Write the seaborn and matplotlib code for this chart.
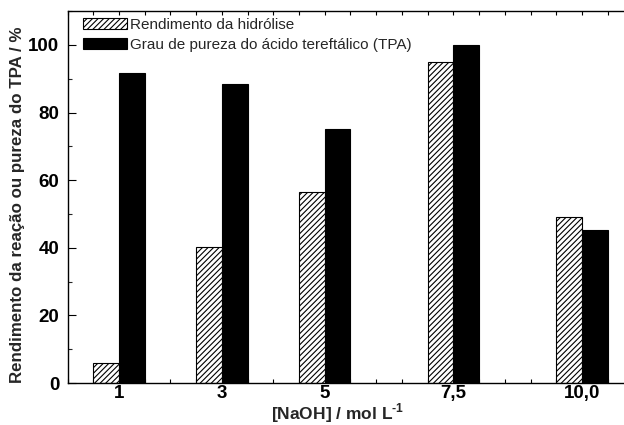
import matplotlib
matplotlib.use("Agg")
import matplotlib.pyplot as plt
from matplotlib.ticker import FixedLocator, MultipleLocator
import seaborn as sns
import pandas as pd

# ---- data ----
concentracao = [1, 3, 5, 7.5, 10]
rotulos_x = ["1", "3", "5", "7,5", "10,0"]
rendimento = [6.0, 40.3, 56.4, 95.0, 49.2]
pureza = [91.8, 88.5, 75.0, 100.0, 45.3]
series = ["Rendimento da hidrólise", "Grau de pureza do ácido tereftálico (TPA)"]

df = pd.DataFrame({
    "conc": concentracao * 2,
    "valor": rendimento + pureza,
    "serie": [series[0]] * len(concentracao) + [series[1]] * len(concentracao),
})

sns.set_style("ticks")
plt.rcParams["font.family"] = ["Liberation Sans", "DejaVu Sans"]
plt.rcParams["mathtext.fontset"] = "custom"
plt.rcParams["mathtext.rm"] = "Liberation Sans:bold"
plt.rcParams["mathtext.bf"] = "Liberation Sans:bold"
plt.rcParams["hatch.linewidth"] = 0.8

W, H = 624, 425
fig = plt.figure(figsize=(W / 100, H / 100), dpi=100)
left_px, bottom_px, top_px = 67.5, 383, 11.2
ax = fig.add_axes([left_px / W, (H - bottom_px) / H, 1 - left_px / W, (bottom_px - top_px) / H])

sns.barplot(data=df, x="conc", y="valor", hue="serie", hue_order=series,
            palette=["white", "black"], native_scale=True, width=0.5,
            edgecolor="black", linewidth=0.8, saturation=1, legend=False, ax=ax,
            errorbar=None)

handles = {}
for p in ax.patches:
    fc = p.get_facecolor()
    if fc[0] > 0.5:
        p.set_hatch("//////")
        handles.setdefault(0, p)
    else:
        handles.setdefault(1, p)

ax.set_xlim(0, (W - left_px) / 51.45)
ax.set_ylim(0, 110)

ax.xaxis.set_major_locator(FixedLocator(concentracao))
ax.set_xticklabels(rotulos_x)
ax.xaxis.set_minor_locator(MultipleLocator(0.5))
ax.yaxis.set_major_locator(MultipleLocator(20))
ax.yaxis.set_minor_locator(MultipleLocator(10))

for lab in ax.get_xticklabels() + ax.get_yticklabels():
    lab.set_fontweight("bold")
    lab.set_fontsize(13.5)

ax.tick_params(axis="x", which="both", direction="in", length=3, width=0.8,
               top=True, pad=1.5, colors="black")
ax.tick_params(axis="y", which="major", direction="in", length=6, width=0.8,
               pad=6, colors="black")
ax.tick_params(axis="y", which="minor", direction="in", length=3, width=0.8)

for s in ["left", "bottom", "top"]:
    ax.spines[s].set_color("black")
    ax.spines[s].set_linewidth(1.0)
ax.spines["right"].set_visible(False)

ax.set_xlabel("")
ax.set_ylabel("")
fig.text(338 / W, 5.5 / H, r"[NaOH] / mol L$^{\text{-1}}$", ha="center", va="baseline",
         fontsize=12.5, fontweight="bold")
fig.text(18 / W, (H - 204.5) / H, "Rendimento da reação ou pureza do TPA / %",
         rotation=90, ha="center", va="center", fontsize=12.2, fontweight="bold")

ax.legend(handles=[handles[0], handles[1]], labels=series, loc="upper left",
          bbox_to_anchor=(83 / W, (H - 18) / H), bbox_transform=fig.transFigure,
          frameon=False, borderpad=0, borderaxespad=0, handlelength=2.9,
          handleheight=0.7, handletextpad=0.15, labelspacing=0.4, fontsize=11)

fig.savefig("out.png", dpi=100)
